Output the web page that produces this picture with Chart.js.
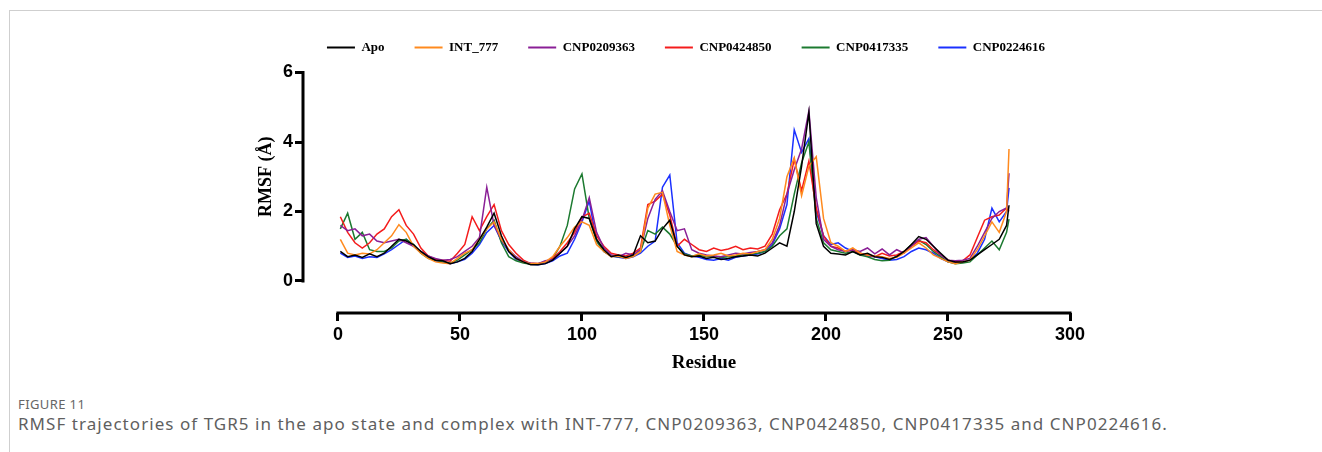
<!DOCTYPE html>
<html>
<head>
<meta charset="utf-8">
<script src="https://cdn.jsdelivr.net/npm/chart.js@4.4.1/dist/chart.umd.min.js"></script>
<style>
  body { margin: 0; background: #fff; }
  #frame { position: absolute; left: 9px; top: 10px; width: 1313px; height: 442px;
           border-left: 1px solid #cfcfcf; border-top: 1px solid #cfcfcf; }
  #cv { position: absolute; left: 0; top: 0; }
  .fig { position: absolute; left: 18px; top: 395px; font-family: "Noto Sans", sans-serif;
         font-size: 13px; letter-spacing: 0.4px; color: #666; }
  .cap { position: absolute; left: 18px; top: 412px; font-family: "Noto Sans", sans-serif;
         font-size: 17px; letter-spacing: 1.05px; color: #5f5f5f; white-space: nowrap; }
</style>
</head>
<body>
<div id="frame"></div>
<canvas id="cv" width="1322" height="390"></canvas>
<div class="fig">FIGURE 11</div>
<div class="cap">RMSF trajectories of TGR5 in the apo state and complex with INT-777, CNP0209363, CNP0424850, CNP0417335 and CNP0224616.</div>
<script>
// residue numbers sampled every 3 residues, plus the last one
let residues = [];
for (let r = 1; r <= 274; r += 3) residues.push(r);
residues.push(275);

let xTicks = [0, 50, 100, 150, 200, 250, 300];
let yTicks = [0, 2, 4, 6];

let seriesNames = ['Apo', 'INT_777', 'CNP0209363', 'CNP0424850', 'CNP0417335', 'CNP0224616'];
let seriesColors = ['#000000', '#ff8a1e', '#8a1f96', '#f41c1c', '#1c7a30', '#1a30ff'];

let apo = [
 0.85,0.70,0.75,0.68,0.78,0.70,0.80,1.00,1.20,1.15,
 1.05,0.85,0.70,0.60,0.58,0.50,0.55,0.65,0.85,1.20,
 1.55,1.95,1.30,0.85,0.65,0.55,0.47,0.47,0.50,0.60,
 0.80,1.00,1.50,1.85,1.80,1.20,0.90,0.70,0.75,0.68,
 0.75,1.30,1.10,1.15,1.50,1.75,1.00,0.75,0.70,0.72,
 0.65,0.68,0.62,0.65,0.70,0.72,0.75,0.72,0.80,0.95,
 1.10,1.00,2.00,3.30,4.85,1.65,1.00,0.80,0.78,0.75,
 0.85,0.75,0.80,0.70,0.68,0.62,0.70,0.85,1.05,1.28,
 1.20,1.00,0.80,0.60,0.55,0.55,0.60,0.75,0.90,1.05,
 1.20,1.60,2.18];

let int777 = [
 1.20,0.80,0.75,0.80,0.78,0.90,1.10,1.30,1.62,1.40,
 1.00,0.80,0.65,0.55,0.52,0.50,0.65,0.80,0.90,1.20,
 1.50,1.70,1.20,0.90,0.65,0.55,0.50,0.50,0.55,0.70,
 1.00,1.25,1.55,1.70,1.60,1.05,0.85,0.70,0.72,0.65,
 0.70,0.85,2.10,2.50,2.55,1.60,0.85,0.75,0.70,0.78,
 0.72,0.75,0.80,0.72,0.75,0.80,0.78,0.85,0.90,1.20,
 1.80,3.00,3.55,2.45,3.30,3.58,1.80,1.10,1.00,0.85,
 0.95,0.80,0.75,0.72,0.70,0.65,0.68,0.80,0.95,1.10,
 0.95,0.75,0.65,0.55,0.50,0.55,0.60,0.90,1.30,1.70,
 1.40,2.00,3.80];

let cnp0209363 = [
 1.60,1.45,1.50,1.30,1.35,1.15,1.10,1.15,1.20,1.10,
 1.00,0.85,0.72,0.65,0.60,0.62,0.70,0.85,1.00,1.25,
 2.70,1.60,1.20,0.90,0.70,0.55,0.52,0.50,0.58,0.62,
 0.80,1.00,1.30,1.75,2.40,1.40,0.95,0.75,0.70,0.80,
 0.75,0.90,1.80,2.35,2.60,2.00,1.45,1.50,0.90,0.80,
 0.75,0.72,0.70,0.75,0.80,0.78,0.82,0.85,0.90,1.10,
 1.60,2.50,3.20,3.80,4.90,2.40,1.20,1.00,0.90,0.85,
 0.90,0.85,0.95,0.78,0.92,0.75,0.90,0.80,1.00,1.20,
 1.25,1.00,0.75,0.60,0.58,0.60,0.65,1.00,1.40,1.80,
 2.00,2.10,3.10];

let cnp0424850 = [
 1.85,1.40,1.10,0.95,1.10,1.35,1.50,1.85,2.05,1.60,
 1.35,0.95,0.72,0.62,0.60,0.57,0.80,1.05,1.85,1.45,
 1.85,2.20,1.45,1.05,0.80,0.60,0.50,0.50,0.55,0.65,
 0.85,1.10,1.40,1.85,1.95,1.30,1.00,0.80,0.75,0.72,
 0.80,0.95,2.20,2.30,2.50,1.90,1.00,1.20,1.05,0.90,
 0.85,0.95,0.88,0.92,1.00,0.90,0.95,0.92,1.00,1.35,
 2.05,2.50,3.50,2.60,3.45,2.10,1.30,1.00,0.95,0.85,
 0.90,0.80,0.75,0.70,0.80,0.72,0.75,0.85,1.00,1.15,
 1.10,0.90,0.75,0.60,0.55,0.58,0.75,1.25,1.75,1.85,
 1.90,2.10,2.00];

let cnp0417335 = [
 1.50,1.95,1.20,1.40,0.90,0.85,0.85,0.95,1.15,1.20,
 1.05,0.80,0.65,0.60,0.55,0.52,0.60,0.75,0.90,1.10,
 1.50,1.75,1.10,0.70,0.58,0.52,0.48,0.50,0.55,0.65,
 1.00,1.60,2.65,3.08,1.80,1.15,0.85,0.72,0.70,0.68,
 0.72,0.85,1.45,1.35,1.55,1.35,1.00,0.78,0.72,0.75,
 0.70,0.72,0.68,0.70,0.72,0.75,0.78,0.80,0.85,1.00,
 1.30,1.50,2.50,3.40,4.00,1.80,1.10,0.90,0.85,0.80,
 0.85,0.75,0.70,0.62,0.58,0.60,0.72,0.85,1.05,1.18,
 1.05,0.85,0.70,0.55,0.50,0.52,0.55,0.75,0.95,1.15,
 0.90,1.40,1.78];

let cnp0224616 = [
 0.80,0.68,0.72,0.65,0.70,0.68,0.78,0.90,1.05,1.20,
 1.00,0.82,0.68,0.58,0.55,0.50,0.55,0.62,0.80,1.05,
 1.40,1.60,1.15,0.85,0.62,0.55,0.48,0.47,0.50,0.58,
 0.72,0.80,1.20,1.70,2.30,1.15,0.85,0.72,0.68,0.65,
 0.70,0.80,1.00,1.15,2.70,3.05,1.10,0.80,0.72,0.68,
 0.62,0.60,0.65,0.60,0.68,0.72,0.75,0.78,0.85,1.05,
 1.50,2.20,4.35,3.70,4.10,2.00,1.30,1.05,1.10,0.95,
 0.85,0.80,0.72,0.70,0.65,0.60,0.62,0.70,0.85,0.95,
 0.90,0.80,0.65,0.55,0.52,0.55,0.60,0.80,1.20,2.10,
 1.70,2.00,2.68];

let allSeries = [apo, int777, cnp0209363, cnp0424850, cnp0417335, cnp0224616];

let datasets = allSeries.map((vals, k) => ({
  label: seriesNames[k],
  data: vals.map((v, i) => ({ x: residues[i], y: v })),
  borderColor: seriesColors[k],
  backgroundColor: seriesColors[k],
  borderWidth: 1.5,
  pointRadius: 0,
  tension: 0
}));

// offset axis lines and axis titles like the original (y from 0 to 6, x from 0 to 300)
let axisLines = {
  id: 'axisLines',
  afterDraw(chart) {
    let ctx = chart.ctx;
    let xs = chart.scales.x, ys = chart.scales.y;
    let area = chart.chartArea;
    ctx.save();
    ctx.strokeStyle = '#000';
    ctx.lineWidth = 3;
    ctx.beginPath();
    ctx.moveTo(area.left, ys.getPixelForValue(0) + 1.5);
    ctx.lineTo(area.left, ys.getPixelForValue(6) - 1.5);
    ctx.moveTo(xs.getPixelForValue(0) - 1.5, area.bottom);
    ctx.lineTo(xs.getPixelForValue(300) + 1.5, area.bottom);
    ctx.stroke();

    ctx.fillStyle = '#000';
    ctx.textAlign = 'center';
    ctx.textBaseline = 'middle';
    ctx.font = 'bold 19px "Liberation Serif", "Times New Roman", serif';
    ctx.fillText('Residue', (xs.getPixelForValue(0) + xs.getPixelForValue(300)) / 2, area.bottom + 50);
    ctx.translate(area.left - 37, (ys.getPixelForValue(0) + ys.getPixelForValue(6)) / 2);
    ctx.rotate(-Math.PI / 2);
    ctx.font = 'bold 18px "Liberation Serif", "Times New Roman", serif';
    ctx.fillText('RMSF (Å)', 0, 0);
    ctx.restore();
  }
};

let tickFont = { family: '"Liberation Sans", Arial, sans-serif', size: 18, weight: 'bold' };

new Chart(document.getElementById('cv').getContext('2d'), {
  type: 'line',
  data: { datasets: datasets },
  options: {
    responsive: false,
    animation: false,
    layout: { padding: { left: 250, right: 200, top: 11, bottom: 12 } },
    plugins: {
      tooltip: { enabled: false },
      legend: {
        position: 'top',
        labels: {
          boxWidth: 28,
          boxHeight: 2,
          padding: 30,
          color: '#000',
          font: { family: '"Liberation Serif", "Times New Roman", serif', size: 13, weight: 'bold' },
          generateLabels(chart) {
            return Chart.defaults.plugins.legend.labels.generateLabels(chart).map(l => {
              l.lineWidth = 0;
              return l;
            });
          }
        }
      }
    },
    scales: {
      x: {
        type: 'linear',
        min: -14.3,
        max: 321.3,
        afterBuildTicks(s) { s.ticks = xTicks.map(v => ({ value: v })); },
        afterFit(s) { s.height = 65; },
        grid: { drawOnChartArea: false, drawTicks: true, tickLength: 8, tickWidth: 3, tickColor: '#000' },
        border: { display: false },
        ticks: { color: '#000', font: tickFont, padding: 3, maxRotation: 0 }
      },
      y: {
        min: -0.921,
        max: 6.245,
        afterBuildTicks(s) { s.ticks = yTicks.map(v => ({ value: v })); },
        afterFit(s) { s.width = 53; },
        grid: { drawOnChartArea: false, drawTicks: true, tickLength: 8, tickWidth: 3, tickColor: '#000' },
        border: { display: false },
        ticks: { color: '#000', font: tickFont, padding: 2 }
      }
    }
  },
  plugins: [axisLines]
});
</script>
</body>
</html>
